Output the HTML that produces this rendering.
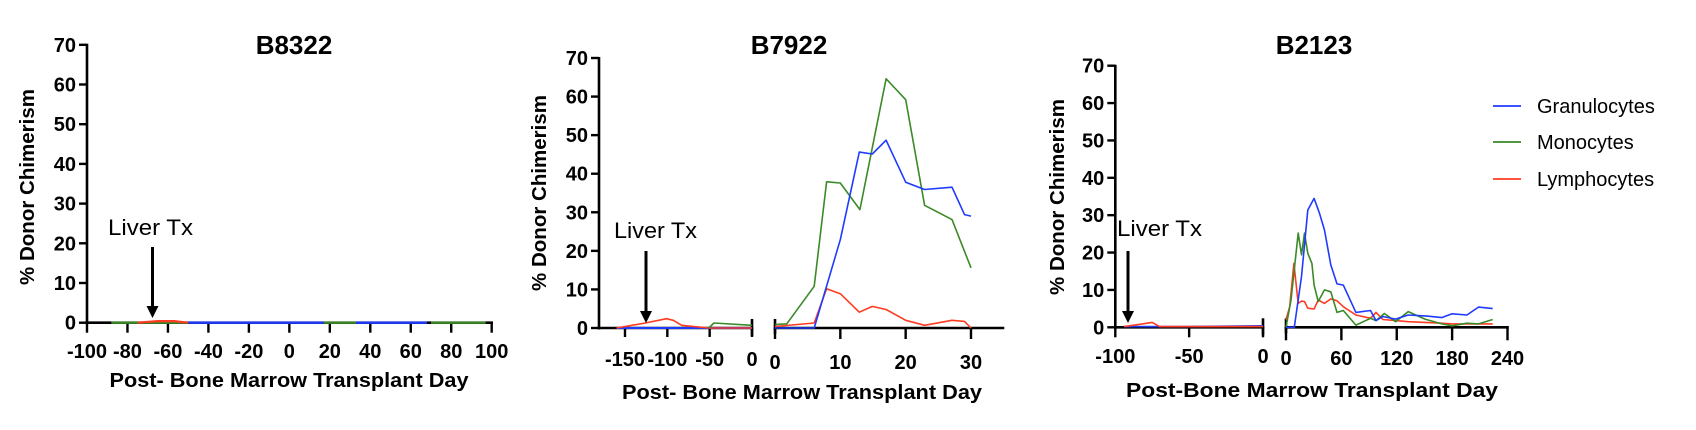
<!DOCTYPE html>
<html><head><meta charset="utf-8"><style>
html,body{margin:0;padding:0;background:#fff;}
svg{display:block;}
text{font-family:"Liberation Sans",Arial,sans-serif;}
</style></head><body>
<svg id="chart" xmlns="http://www.w3.org/2000/svg" width="1696" height="430" viewBox="0 0 1696 430"></svg>
<script>
// ---------- data ----------
const yTicks = [0,10,20,30,40,50,60,70];
const p1Ticks = [-100,-80,-60,-40,-20,0,20,40,60,80,100];
const p2LeftTicks = [-150,-100,-50,0];
const p2RightTicks = [0,10,20,30];
const p3LeftTicks = [-100,-50,0];
const p3RightTicks = [0,60,120,180,240];
const seriesNames = ["Granulocytes","Monocytes","Lymphocytes"];

// B8322
const p1GreenDaysA = [-88,-70,-50];      const p1GreenValsA = [0,0,0];
const p1GreenDaysB = [17,25,33];         const p1GreenValsB = [0,0,0];
const p1GreenDaysC = [70,85,97];         const p1GreenValsC = [0,0,0];
const p1RedDays = [-75,-65,-57,-50];     const p1RedVals = [0,0.4,0.4,0];
const p1BlueDaysA = [-50,-20,0,17];      const p1BlueValsA = [0,0,0,0];
const p1BlueDaysB = [33,50,68];          const p1BlueValsB = [0,0,0];

// B7922 pre-transplant
const p2LRedDays = [-160,-126,-101,-93,-83,-51,0];
const p2LRedVals = [0,1.3,2.4,2,0.7,0,0];
const p2LGreenDays = [-51,-45,0];
const p2LGreenVals = [0,1.3,0.7];
const p2LBlueDays = [-160,-100,-50,0];
const p2LBlueVals = [0,0,0,0];
// B7922 post-transplant
const p2RGreenDays = [0,1.8,6,7.9,10,13,17,20,22.9,27.1,30];
const p2RGreenVals = [0.9,1.1,10.8,37.9,37.6,30.7,64.6,59.2,31.8,28.1,15.6];
const p2RBlueDays = [0,3,6,10,12.9,14.9,17,20,22.9,27.1,29,30];
const p2RBlueVals = [0,0,0,22.9,45.6,45.1,48.7,37.8,35.9,36.5,29.4,29];
const p2RRedDays = [0,6,7.9,10,12.9,14.9,17,20,22.9,27.1,29,30];
const p2RRedVals = [0.4,1.3,10.2,8.9,4.1,5.6,4.8,2,0.7,2,1.7,0];

// B2123 pre-transplant
const p3LRedDays = [-94,-75,-70,0];
const p3LRedVals = [0.2,1.3,0.2,0.2];
const p3LBlueDays = [-94,-50,0];
const p3LBlueVals = [0.2,0.2,0.4];
// B2123 post-transplant
const p3RBlueDays = [0,9,16.8,23.6,30.4,36.3,41.7,48.5,55.3,62.1,75.7,91.6,97.5,105,118.8,132.4,152.8,168.7,180,196,208.6,224];
const p3RBlueVals = [0,0,13.6,31.4,34.5,30.5,26,16.7,11.6,11.3,4,4.5,1.8,2.9,2.2,3.3,3,2.6,3.6,3.3,5.4,5];
const p3RGreenDays = [0,5.4,13.2,16.8,20,23.6,28.1,30.4,34.9,41.7,48.5,55.3,62.1,75.7,91.6,97.5,106.6,118.8,132.4,150.6,168.7,180,196,208.6,224];
const p3RGreenVals = [0,7.3,25.2,19.4,25.2,19.8,17.1,11.3,6.9,10,9.5,4,4.5,0.6,2.4,1.8,3.7,1.5,4.2,2.2,0.9,0.4,1.1,0.9,2.1];
const p3RRedDays = [0,4,8.6,13.2,16.8,20,23.6,30.4,34.9,41.7,48.5,55.3,62.1,75.7,91.6,97.5,105,132.4,168.7,180,208.6,224];
const p3RRedVals = [2,5.5,17.1,6.4,7,6.9,5.1,4.9,7.3,6.4,7.6,7.1,5.5,3.3,2.4,4,2.1,1.5,1.1,0.9,0.9,0.9];

// ---------- drawing ----------
const NS = "http://www.w3.org/2000/svg";
const svg = document.getElementById("chart");
const COL = {blue:"#1f3bff", green:"#3a8a28", red:"#ff3b22"};

function mk(tag, attrs, parent){
  const e = document.createElementNS(NS, tag);
  for (const k in attrs) e.setAttribute(k, attrs[k]);
  (parent||svg).appendChild(e);
  return e;
}

function linScale(d0,d1,r0,r1){ return d => r0 + (d-d0)*(r1-r0)/(d1-d0); }

function drawPanel(p){
  const g = mk("g", {});
  
  
  const y = linScale(0,70,p.y0,p.y70);

  const t = mk("text", {x:p.titleX, y:p.titleY, "text-anchor":"middle", "font-size":26, "font-weight":"bold"}, g);
  t.textContent = p.title;
  
  

  const ya = mk("line", {x1:p.axisX, y1:p.y0+1.5, x2:p.axisX, y2:p.y70-1, stroke:"#000","stroke-width":2.6}, g);
  
  
  yTicks.forEach(v => {
    const tk = mk("line", {x1:p.axisX-8, y1:y(v), x2:p.axisX, y2:y(v), stroke:"#000","stroke-width":2.4}, g);
    
    
    const lb = mk("text", {x:p.axisX-11, y:y(v)+7, "text-anchor":"end", "font-size":20, "font-weight":"bold"}, g);
    lb.textContent = v;
    
    
  });
  const yt = mk("text", {transform:`translate(${p.yTitleX},${p.yTitleY}) rotate(-90)`, "text-anchor":"middle", "font-size":20.5, "font-weight":"bold"}, g);
  yt.textContent = "% Donor Chimerism";
  
  

  p.segs.forEach((s, si) => {
    const x = linScale(s.d0, s.d1, s.x0, s.x1);
    s.scale = x;
    const xa = mk("line", {x1:s.x0-1.3, y1:p.y0, x2:s.x1+1.3, y2:p.y0, stroke:"#000","stroke-width":2.6}, g);
    
    
    if (s.breakL){
      const b = mk("line", {x1:s.x0, y1:p.y0-9, x2:s.x0, y2:p.y0+6, stroke:"#000","stroke-width":2.6}, g);
      
      
    }
    if (s.breakR){
      const b = mk("line", {x1:s.x1, y1:p.y0-9, x2:s.x1, y2:p.y0+8, stroke:"#000","stroke-width":2.6}, g);
      
      
    }
    s.ticks.forEach(v => {
      const tk = mk("line", {x1:x(v), y1:p.y0, x2:x(v), y2:p.y0+s.tickLen, stroke:"#000","stroke-width":2.4}, g);
      
      
      const lb = mk("text", {x:x(v), y:s.labelY, "text-anchor":"middle", "font-size":20, "font-weight":"bold"}, g);
      lb.textContent = v;
      
      
    });
  });

  const xt = mk("text", {x:p.xTitleX, y:p.xTitleY, "text-anchor":"middle", "font-size":20, "font-weight":"bold", textLength:p.xTitleLen, lengthAdjust:"spacingAndGlyphs"}, g);
  xt.textContent = p.xTitle;
  
  

  p.series.forEach(sr => {
    const xs = p.segs[sr.seg].scale;
    const pts = sr.days.map((d,i) => xs(d).toFixed(1) + "," + y(sr.vals[i]).toFixed(1)).join(" ");
    const pl = mk("polyline", {points:pts, fill:"none", stroke:COL[sr.color], "stroke-width":sr.w||1.6, "stroke-linejoin":"round"}, g);
    
    
  });

  const at = mk("text", {x:p.ann.tx, y:p.ann.ty, "font-size":22, textLength:p.ann.tl, lengthAdjust:"spacingAndGlyphs"}, g);
  at.textContent = "Liver Tx";
  
  
  const al = mk("line", {x1:p.ann.ax, y1:p.ann.ay0, x2:p.ann.ax, y2:p.ann.ay1-10, stroke:"#000","stroke-width":3}, g);
  
  
  const ah = mk("polygon", {points:`${p.ann.ax-6},${p.ann.ay1-12} ${p.ann.ax+6},${p.ann.ay1-12} ${p.ann.ax},${p.ann.ay1}`, fill:"#000"}, g);
  
  
}

drawPanel({
  id:"b8322", title:"B8322", titleX:294, titleY:54,
  axisX:87, y0:322.7, y70:44.8, yTitleX:34, yTitleY:187,
  xTitle:"Post- Bone Marrow Transplant Day", xTitleX:289, xTitleY:387, xTitleLen:359,
  segs:[{d0:-100,d1:100,x0:87,x1:491.7,ticks:p1Ticks,tickLen:10,labelY:358}],
  series:[
    {seg:0,days:p1GreenDaysA,vals:p1GreenValsA,color:"green",name:"monocytes-line",w:2.4},
    {seg:0,days:p1GreenDaysB,vals:p1GreenValsB,color:"green",name:"monocytes-line",w:2.4},
    {seg:0,days:p1GreenDaysC,vals:p1GreenValsC,color:"green",name:"monocytes-line",w:2.4},
    {seg:0,days:p1RedDays,vals:p1RedVals,color:"red",name:"lymphocytes-line",w:2.2},
    {seg:0,days:p1BlueDaysA,vals:p1BlueValsA,color:"blue",name:"granulocytes-line",w:2.4},
    {seg:0,days:p1BlueDaysB,vals:p1BlueValsB,color:"blue",name:"granulocytes-line",w:2.4}
  ],
  ann:{tx:108, ty:235, tl:85, ax:152.5, ay0:247, ay1:318}
});

drawPanel({
  id:"b7922", title:"B7922", titleX:789, titleY:54,
  axisX:599, y0:328, y70:58, yTitleX:546, yTitleY:193,
  xTitle:"Post- Bone Marrow Transplant Day", xTitleX:802, xTitleY:399, xTitleLen:360,
  segs:[
    {d0:-180.7,d1:0,x0:599,x1:752,ticks:p2LeftTicks,tickLen:9,labelY:366,breakR:true},
    {d0:0,d1:34.9,x0:775,x1:1003,ticks:p2RightTicks,tickLen:11,labelY:369,breakL:true}
  ],
  series:[
    {seg:0,days:p2LBlueDays,vals:p2LBlueVals,color:"blue",name:"granulocytes-line",w:2},
    {seg:0,days:p2LRedDays,vals:p2LRedVals,color:"red",name:"lymphocytes-line"},
    {seg:0,days:p2LGreenDays,vals:p2LGreenVals,color:"green",name:"monocytes-line"},
    {seg:1,days:p2RGreenDays,vals:p2RGreenVals,color:"green",name:"monocytes-line"},
    {seg:1,days:p2RRedDays,vals:p2RRedVals,color:"red",name:"lymphocytes-line"},
    {seg:1,days:p2RBlueDays,vals:p2RBlueVals,color:"blue",name:"granulocytes-line"}
  ],
  ann:{tx:614, ty:238, tl:83, ax:646, ay0:251, ay1:323}
});

drawPanel({
  id:"b2123", title:"B2123", titleX:1314, titleY:54,
  axisX:1115.3, y0:327.3, y70:65.7, yTitleX:1064, yTitleY:197,
  xTitle:"Post-Bone Marrow Transplant Day", xTitleX:1312, xTitleY:397, xTitleLen:372,
  segs:[
    {d0:-100,d1:0,x0:1115.3,x1:1263,ticks:p3LeftTicks,tickLen:10,labelY:363,breakR:true},
    {d0:0,d1:240,x0:1286,x1:1507.5,ticks:p3RightTicks,tickLen:13,labelY:365,breakL:true}
  ],
  series:[
    {seg:0,days:p3LBlueDays,vals:p3LBlueVals,color:"blue",name:"granulocytes-line"},
    {seg:0,days:p3LRedDays,vals:p3LRedVals,color:"red",name:"lymphocytes-line"},
    {seg:1,days:p3RRedDays,vals:p3RRedVals,color:"red",name:"lymphocytes-line"},
    {seg:1,days:p3RGreenDays,vals:p3RGreenVals,color:"green",name:"monocytes-line"},
    {seg:1,days:p3RBlueDays,vals:p3RBlueVals,color:"blue",name:"granulocytes-line"}
  ],
  ann:{tx:1117, ty:236, tl:85, ax:1128, ay0:251, ay1:323}
});

const legendColors = ["blue","green","red"];
const legendY = [106,142,179];
const lg = mk("g", {});


seriesNames.forEach((n,i) => {
  const ln = mk("line", {x1:1493, y1:legendY[i], x2:1521, y2:legendY[i], stroke:COL[legendColors[i]], "stroke-width":1.8}, lg);
  
  
  const tx = mk("text", {x:1537, y:legendY[i]+7, "font-size":20}, lg);
  tx.textContent = n;
  
  
});
</script>
</body></html>
